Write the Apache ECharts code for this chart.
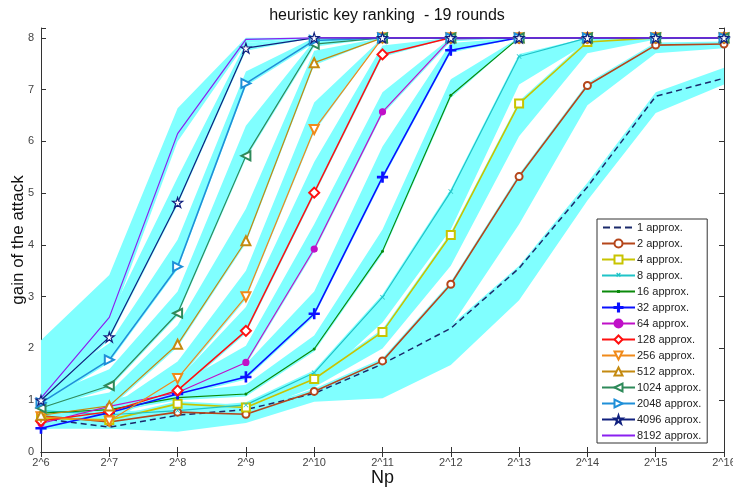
<!DOCTYPE html>
<html><head><meta charset="utf-8">
<script src="https://cdn.jsdelivr.net/npm/echarts@6/dist/echarts.min.js"></script>
<style>html,body{margin:0;padding:0;background:#fff}#c{width:733px;height:489px}</style>
</head><body><div id="c"></div>
<script>
const categories = ['2^6','2^7','2^8','2^9','2^10','2^11','2^12','2^13','2^14','2^15','2^16'];
const seriesNames = ['1 approx.','2 approx.','4 approx.','8 approx.','16 approx.','32 approx.','64 approx.','128 approx.','256 approx.','512 approx.','1024 approx.','2048 approx.','4096 approx.','8192 approx.'];

const v1    = [0.65,0.48,0.71,0.82,1.13,1.70,2.39,3.55,5.12,6.87,7.22];
const lo1   = [0.45,0.45,0.39,0.56,0.97,1.04,1.68,2.93,4.86,6.55,7.10];
const hi1   = [0.70,0.55,0.75,0.88,1.18,1.75,2.45,3.60,5.20,6.95,7.42];

const v2    = [0.70,0.58,0.77,0.73,1.17,1.76,3.24,5.32,7.08,7.86,7.88];
const lo2   = [0.50,0.45,0.50,0.60,1.00,1.40,2.42,4.40,6.70,7.70,7.80];
const hi2   = [0.75,0.63,0.82,0.78,1.22,1.81,3.29,5.37,7.13,7.91,7.93];

const v4    = [0.65,0.62,0.93,0.86,1.41,2.32,4.19,6.73,7.92,8.00,8.00];
const lo4   = [0.55,0.52,0.78,0.75,1.25,2.00,3.60,6.10,7.70,7.97,8.00];
const hi4   = [0.70,0.67,0.98,0.91,1.46,2.37,4.24,6.78,7.97,8.00,8.00];

const v8    = [0.80,0.72,0.80,0.91,1.53,2.99,5.03,7.64,8.00,8.00,8.00];
const lo8   = [0.65,0.60,0.67,0.78,1.30,2.50,4.30,7.10,7.90,8.00,8.00];
const hi8   = [0.85,0.77,0.85,0.96,1.58,3.04,5.08,7.69,8.00,8.00,8.00];

const v16   = [0.75,0.82,1.05,1.12,1.99,3.88,6.89,8.00,8.00,8.00,8.00];
const lo16  = [0.70,0.77,1.00,1.07,1.94,3.83,6.84,8.00,8.00,8.00,8.00];
const hi16  = [0.85,0.92,1.15,1.30,2.25,4.30,7.20,8.00,8.00,8.00,8.00];

const v32   = [0.46,0.76,1.12,1.45,2.67,5.31,7.76,8.00,8.00,8.00,8.00];
const lo32  = [0.41,0.71,1.07,1.40,2.62,5.26,7.71,8.00,8.00,8.00,8.00];
const hi32  = [0.60,0.90,1.25,1.70,3.10,5.90,7.90,8.00,8.00,8.00,8.00];

const v64   = [0.55,0.88,1.15,1.73,3.92,6.57,7.98,8.00,8.00,8.00,8.00];
const lo64  = [0.50,0.83,1.10,1.68,3.87,6.52,7.93,8.00,8.00,8.00,8.00];
const hi64  = [0.70,1.00,1.30,2.05,4.40,6.95,8.00,8.00,8.00,8.00,8.00];

const v128  = [0.60,0.78,1.19,2.34,5.01,7.68,8.00,8.00,8.00,8.00,8.00];
const lo128 = [0.55,0.73,1.14,2.29,4.96,7.63,8.00,8.00,8.00,8.00,8.00];
const hi128 = [0.75,0.92,1.40,2.80,5.60,7.85,8.00,8.00,8.00,8.00,8.00];

const v256  = [0.68,0.60,1.42,3.00,6.23,8.00,8.00,8.00,8.00,8.00,8.00];
const lo256 = [0.63,0.55,1.37,2.95,6.18,8.00,8.00,8.00,8.00,8.00,8.00];
const hi256 = [0.85,0.85,1.75,3.50,6.75,8.00,8.00,8.00,8.00,8.00,8.00];

const v512  = [0.71,0.89,2.08,4.08,7.52,8.00,8.00,8.00,8.00,8.00,8.00];
const lo512 = [0.66,0.84,2.03,4.03,7.47,8.00,8.00,8.00,8.00,8.00,8.00];
const hi512 = [0.90,1.15,2.45,4.70,7.75,8.00,8.00,8.00,8.00,8.00,8.00];

const v1024  = [0.85,1.28,2.68,5.72,7.88,8.00,8.00,8.00,8.00,8.00,8.00];
const lo1024 = [0.80,1.23,2.63,5.67,7.83,8.00,8.00,8.00,8.00,8.00,8.00];
const hi1024 = [1.05,1.60,3.10,6.30,7.95,8.00,8.00,8.00,8.00,8.00,8.00];

const v2048  = [0.95,1.78,3.58,7.12,7.95,8.00,8.00,8.00,8.00,8.00,8.00];
const lo2048 = [0.90,1.73,3.53,7.07,7.90,8.00,8.00,8.00,8.00,8.00,8.00];
const hi2048 = [1.20,2.10,4.10,7.35,8.00,8.00,8.00,8.00,8.00,8.00,8.00];

const v4096  = [1.00,2.22,4.82,7.80,8.00,8.00,8.00,8.00,8.00,8.00,8.00];
const lo4096 = [0.95,2.17,4.77,7.75,8.00,8.00,8.00,8.00,8.00,8.00,8.00];
const hi4096 = [1.30,2.60,5.30,7.90,8.00,8.00,8.00,8.00,8.00,8.00,8.00];

const v8192  = [1.04,2.60,6.15,7.97,8.00,8.00,8.00,8.00,8.00,8.00,8.00];
const lo8192 = [0.85,2.45,6.00,7.90,8.00,8.00,8.00,8.00,8.00,8.00,8.00];
const hi8192 = [2.16,3.42,6.64,8.00,8.00,8.00,8.00,8.00,8.00,8.00,8.00];

const values = [v1,v2,v4,v8,v16,v32,v64,v128,v256,v512,v1024,v2048,v4096,v8192];
const lows   = [lo1,lo2,lo4,lo8,lo16,lo32,lo64,lo128,lo256,lo512,lo1024,lo2048,lo4096,lo8192];
const highs  = [hi1,hi2,hi4,hi8,hi16,hi32,hi64,hi128,hi256,hi512,hi1024,hi2048,hi4096,hi8192];

const colors = ['#1b2a6b','#b5461b','#c8c400','#1fc4c8','#0a8a0a','#0a10ff','#c010c8','#ff1010','#f08a1a','#c48a10','#2e8a5a','#1f8fd8','#10207e','#8a20f0'];
const XPATH = 'path://M0,1L1,0L5,4L9,0L10,1L6,5L10,9L9,10L5,6L1,10L0,9L4,5Z';
const PLUS = 'path://M4.3,0H5.7V4.3H10V5.7H5.7V10H4.3V5.7H0V4.3H4.3Z';
const STAR = 'path://M5,0L6.2,3.6L10,3.6L6.9,5.9L8.1,9.5L5,7.3L1.9,9.5L3.1,5.9L0,3.6L3.8,3.6Z';
const symbols = [
  {symbol:'none'},
  {symbol:'emptyCircle', size:7},
  {symbol:'emptyRect', size:8},
  {symbol:XPATH, size:5},
  {symbol:'circle', size:3},
  {symbol:PLUS, size:10},
  {symbol:'circle', size:6},
  {symbol:'emptyDiamond', size:10},
  {symbol:'emptyTriangle', size:9, rotate:180},
  {symbol:'emptyTriangle', size:9},
  {symbol:'emptyTriangle', size:9, rotate:90},
  {symbol:'emptyTriangle', size:9, rotate:-90},
  {symbol:STAR, size:10, hollow:true},
  {symbol:'none'}
];
const widths = [1.5,1.6,1.6,1.2,1.2,1.6,1.2,1.5,1.2,1.2,1.2,1.6,1.2,1.2];

// legend icons (33 x 10 box) for entries whose default icon would be wrong
const C0 = 'M0,0h0.01v0.01h-0.01Z M33,10h-0.01v-0.01h0.01Z ';
const legendIcons = {
  0: 'path://' + C0 + 'M1,4h7v2h-7Z M12,4h7v2h-7Z M23,4h7v2h-7Z',
  3: 'path://' + C0 + 'M0,4.1H33V5.9H0Z M14.2,3.0l0.9,-0.9l1.4,1.4l1.4,-1.4l0.9,0.9l-1.4,1.4l1.4,1.4l-0.9,0.9l-1.4,-1.4l-1.4,1.4l-0.9,-0.9l1.4,-1.4Z',
  4: 'path://' + C0 + 'M0,4.1H33V5.9H0Z M15,3.5h3v3h-3Z',
  13: 'path://' + C0 + 'M0,4.1H33V5.9H0Z'
};
const legendData = seriesNames.map((n,i)=> legendIcons[i]
  ? {name:n, icon:legendIcons[i], itemStyle:{color:colors[i], borderWidth:0, opacity:1}}
  : {name:n});

const series = [];
values.forEach((v,i)=>{
  series.push({name:'lo'+i,type:'line',stack:'b'+i,data:lows[i],symbol:'none',silent:true,
    lineStyle:{opacity:0,width:0},z:1,emphasis:{disabled:true}});
  series.push({name:'w'+i,type:'line',stack:'b'+i,data:highs[i].map((h,j)=>+(h-lows[i][j]).toFixed(3)),symbol:'none',silent:true,
    lineStyle:{opacity:0,width:0},areaStyle:{color:'#80ffff',opacity:1},z:1,emphasis:{disabled:true}});
});
values.forEach((v,i)=>{
  const s = symbols[i];
  const noBorder = !!legendIcons[i];
  const item = {color:colors[i], borderColor:colors[i], borderWidth: noBorder ? 0 : 1.2};
  if (s.hollow) { item.color = '#fff'; }
  series.push({
    name:seriesNames[i], type:'line', data:v, z:3,
    symbol:s.symbol, symbolSize:s.size||4, symbolRotate:s.rotate||0, showSymbol:s.symbol!=='none',
    itemStyle:item,
    lineStyle:{color:colors[i], width:widths[i], type: i===0?[6,4]:'solid'},
    emphasis:{disabled:true}
  });
});

const axisLine = {show:true, lineStyle:{color:'#333', width:1}};
const chart = echarts.init(document.getElementById('c'));
chart.setOption({
  animation:false,
  backgroundColor:'#fff',
  textStyle:{fontFamily:'Liberation Sans, Arial, sans-serif'},
  title:{text:'heuristic key ranking  - 19 rounds', left:382, top:3, textAlign:'center',
    textStyle:{fontSize:16, fontWeight:'normal', color:'#111', fontFamily:'Liberation Sans, Arial, sans-serif'}},
  grid:{left:41, right:9, top:28, bottom:37, containLabel:false, outerBoundsMode:'none'},
  legend:{data:legendData, orient:'vertical', left:597, top:219, itemWidth:33, itemHeight:10, itemGap:5,
    padding:[3,6,2,4], borderColor:'#333', borderWidth:1, backgroundColor:'#fff',
    textStyle:{fontSize:11, color:'#222', padding:[0,0,0,-3]}, selectedMode:false, z:10},
  xAxis:[
    {type:'category', data:categories, boundaryGap:false, axisLine:axisLine,
     axisTick:{inside:true, length:5, lineStyle:{color:'#333'}},
     axisLabel:{fontSize:11, color:'#444', margin:5},
     name:'Np', nameLocation:'middle', nameGap:17, nameMoveOverlap:false, nameTextStyle:{fontSize:18, color:'#111'}},
    {type:'category', data:categories, boundaryGap:false, position:'top', axisLine:axisLine,
     axisTick:{inside:true, length:5, lineStyle:{color:'#333'}}, axisLabel:{show:false}}
  ],
  yAxis:[
    {type:'value', min:0, max:8.19, interval:1, axisLine:axisLine, splitLine:{show:false},
     axisTick:{show:true, inside:true, length:5, lineStyle:{color:'#333'}},
     axisLabel:{fontSize:11, color:'#444', margin:7, formatter:v=>Number.isInteger(v)?String(v):''},
     name:'gain of the attack', nameLocation:'middle', nameGap:14, nameMoveOverlap:false, nameTextStyle:{fontSize:17, color:'#111'}},
    {type:'value', min:0, max:8.19, interval:1, position:'right', axisLine:axisLine, splitLine:{show:false},
     axisTick:{show:true, inside:true, length:5, lineStyle:{color:'#333'}}, axisLabel:{show:false}}
  ],
  series:series
});
</script></body></html>
